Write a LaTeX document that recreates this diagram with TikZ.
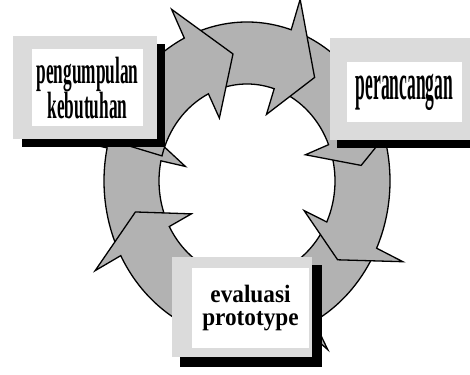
\documentclass[tikz,border=0pt]{standalone}
\usepackage{fontspec}
\setmainfont{Liberation Serif}
\usepackage{graphicx}
\usetikzlibrary{backgrounds}
\definecolor{ringgray}{gray}{0.70}
\definecolor{boxgray}{gray}{0.86}
\tikzset{
  ringarrow/.style={fill=ringgray, draw=black, line width=1.3pt, line join=miter},
  shadowbox/.style={fill=black},
  framebox/.style={fill=boxgray},
  textbox/.style={fill=white, inner sep=0pt, align=center}
}
% one curved arrow of the cycle: start angle, head base angle, tip angle, inner barb radii
\newcommand\cyclearrow[5]{%
  \draw[ringarrow] (#1:143 and 159) arc[start angle=#1, end angle=#2, x radius=143, y radius=159]
    -- (#2:172 and 191) -- (#3:115 and 128) -- (#2:#4 and #5) -- (#2:88 and 97)
    arc[start angle=#2, end angle=#1, x radius=88, y radius=97] -- cycle;}
\newcommand\narrow[2]{\scalebox{#1}[1]{#2}}
\begin{document}
\begin{tikzpicture}[x=1pt,y=1pt]
  \useasboundingbox (0,0) rectangle (470,374);
  \coordinate (C) at (247,193);
  % boxes
  \node[textbox, minimum width=111pt, minimum height=77pt,
        font=\fontsize{38}{34}\selectfont\bfseries] (pk) at (87.5,286)
        {\narrow{.455}{pengumpulan}\\\narrow{.455}{kebutuhan}};
  \node[textbox, minimum width=115pt, minimum height=60pt,
        font=\fontsize{50}{50}\selectfont\bfseries] (pr) at (404.5,282)
        {\narrow{.35}{perancangan}};
  \node[textbox, minimum width=117pt, minimum height=80pt,
        font=\fontsize{25}{23}\selectfont\bfseries] (ev) at (250.5,66)
        {\narrow{.93}{evaluasi}\\\narrow{.93}{prototype}};
  \begin{scope}[on background layer]
    % ring of arrows
    \begin{scope}[shift={(C)}]
      \foreach \s/\b/\t/\i/\j in {205/168/155/63/70, 247/208/194/63/70, 294/250/238/88/97,
                                  332/298/285/88/97, 19/-25/-38/63/70, 69/22/7/63/70,
                                  113/72/54/63/70, 165/116/97/63/70}
        \cyclearrow{\s}{\b}{\t}{\i}{\j};
    \end{scope}
    \fill[shadowbox] ([shift={(-10,-20)}]pk.south west) rectangle ([shift={(22,5)}]pk.north east);
    \fill[framebox] ([shift={(-19,-12)}]pk.south west) rectangle ([shift={(14,13)}]pk.north east);
    \fill[shadowbox] ([shift={(-10,-26)}]pr.south west) rectangle ([shift={(16,16)}]pr.north east);
    \fill[framebox] ([shift={(-17,-18)}]pr.south west) rectangle ([shift={(8,24)}]pr.north east);
    \fill[shadowbox] ([shift={(-12,-19)}]ev.south west) rectangle ([shift={(13,3)}]ev.north east);
    \fill[framebox] ([shift={(-20,-9)}]ev.south west) rectangle ([shift={(3,11)}]ev.north east);
  \end{scope}
\end{tikzpicture}
\end{document}
